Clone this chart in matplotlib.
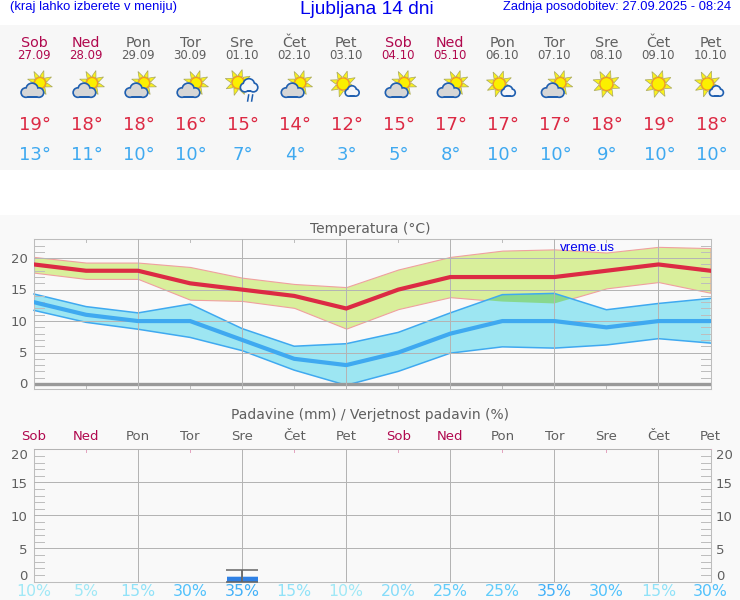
import matplotlib
matplotlib.use("Agg")
import matplotlib.pyplot as plt
import numpy as np
from matplotlib.patches import Circle, Rectangle, Polygon

days = ["Sob", "Ned", "Pon", "Tor", "Sre", "Čet", "Pet", "Sob", "Ned", "Pon", "Tor", "Sre", "Čet", "Pet"]
dates = ["27.09", "28.09", "29.09", "30.09", "01.10", "02.10", "03.10",
         "04.10", "05.10", "06.10", "07.10", "08.10", "09.10", "10.10"]
icons = ["pc", "pc", "pc", "pc", "rain", "pc", "sc", "pc", "pc", "sc", "pc", "sun", "sun", "sc"]
t_max = [19, 18, 18, 16, 15, 14, 12, 15, 17, 17, 17, 18, 19, 18]
t_min = [13, 11, 10, 10, 7, 4, 3, 5, 8, 10, 10, 9, 10, 10]
max_hi = [20.2, 19.3, 19.3, 18.6, 16.9, 15.9, 15.4, 18.2, 20.2, 21.2, 21.4, 20.9, 21.8, 21.6]
max_lo = [17.7, 16.7, 16.7, 13.4, 13.2, 12.1, 8.8, 11.9, 13.8, 13.1, 12.8, 15.2, 16.2, 14.5]
min_hi = [14.3, 12.3, 11.3, 12.7, 8.8, 6.0, 6.4, 8.2, 11.3, 14.2, 14.4, 11.8, 12.8, 13.6]
min_lo = [11.7, 9.8, 8.7, 7.4, 5.3, 2.2, -0.2, 2.0, 4.9, 5.9, 5.7, 6.2, 7.2, 6.5]
rain = [0, 0, 0, 0, 0.7, 0, 0, 0, 0, 0, 0, 0, 0, 0]
rain_max = [0, 0, 0, 0, 1.7, 0, 0, 0, 0, 0, 0, 0, 0, 0]
prob = [10, 5, 15, 30, 35, 15, 10, 20, 25, 25, 35, 30, 15, 30]

W, H = 740, 600
X0, X1 = 34, 711
WEEKEND = "#b0084e"
GREY = "#5f5f5f"
GRID = "#b4b4b4"
RED = "#dc2a44"
BLUE = "#3fa9f0"
SANS = "Liberation Sans"
prob_colors = {5: "#a0e8f6", 10: "#a0e8f6", 15: "#90e2f8", 20: "#85dcfa",
               25: "#62cdfb", 30: "#52c2fc", 35: "#42b0f8"}

fig = plt.figure(figsize=(W / 100, H / 100), dpi=100, facecolor="white")


def px_axes(left, top, right, bottom):
    return fig.add_axes([left / W, 1 - bottom / H, (right - left) / W, (bottom - top) / H])


bg = fig.add_axes([0, 0, 1, 1], zorder=0)
bg.set_xlim(0, W)
bg.set_ylim(H, 0)
bg.axis("off")
bg.add_patch(Rectangle((0, 25), W, 145, fc="#f7f7f7", ec="none"))
bg.add_patch(Rectangle((0, 215), W, 385, fc="#f9f9f9", ec="none"))


def draw_sun(x, y, r=6.0):
    for a in np.arange(8) * np.pi / 4 + 0.3:
        tip = (x + (r + 7.5) * np.cos(a), y + (r + 7.5) * np.sin(a))
        b1 = (x + (r + 1) * np.cos(a - 0.35), y + (r + 1) * np.sin(a - 0.35))
        b2 = (x + (r + 1) * np.cos(a + 0.35), y + (r + 1) * np.sin(a + 0.35))
        bg.add_patch(Polygon([b1, tip, b2], fc="#fbf21a", ec="#a8a860", lw=0.5))
    bg.add_patch(Circle((x, y), r, fc="#fbf000", ec="#f39a1c", lw=0.9))


def draw_cloud(x, y, w, h, fill):
    # x, y = centre of the cloud, dark outline first and the fill on top
    parts = [(-0.29 * w, 0.12 * h, 0.3 * h), (-0.02 * w, -0.14 * h, 0.4 * h), (0.28 * w, 0.12 * h, 0.3 * h)]
    for dx, dy, r in parts:
        bg.add_patch(Circle((x + dx, y + dy), r + 1.7, fc="#1f5fb0", ec="none"))
    bg.add_patch(Rectangle((x - 0.3 * w, y - 0.05 * h), 0.6 * w, 0.42 * h + 1.7, fc="#1f5fb0", ec="none"))
    for dx, dy, r in parts:
        bg.add_patch(Circle((x + dx, y + dy), r, fc=fill, ec="none"))
    bg.add_patch(Rectangle((x - 0.3 * w, y - 0.05 * h), 0.6 * w, 0.42 * h, fc=fill, ec="none"))


def draw_icon(kind, x):
    if kind == "pc":
        draw_sun(x + 6, 83, 5.5)
        draw_cloud(x - 1.5, 91, 23, 13, "#d6d6d6")
    elif kind == "rain":
        draw_sun(x - 4, 82.5, 6)
        draw_cloud(x + 7, 86, 15, 12, "#f4f6fa")
        bg.plot([x + 6.5, x + 5.5], [95, 101], color="#1f5fb0", lw=1.1)
        bg.plot([x + 10.5, x + 9.5], [95, 101], color="#1f5fb0", lw=1.1)
    elif kind == "sc":
        draw_sun(x - 3, 84, 6)
        draw_cloud(x + 6, 91.5, 12, 9, "#f4f6fa")
    else:
        draw_sun(x, 84, 6.5)


xs_px = np.linspace(X0, X1 - 0.5, 14)
for i, x in enumerate(xs_px):
    c = WEEKEND if days[i] in ("Sob", "Ned") else GREY
    bg.text(x, 43, days[i], color=c, fontsize=10.3, ha="center", va="center")
    bg.text(x, 55.5, dates[i], color=c, fontsize=8.5, ha="center", va="center")
    draw_icon(icons[i], x)
    bg.text(x + 1, 124.5, f"{t_max[i]}°", color=RED, fontsize=13, ha="center", va="center")
    bg.text(x + 1, 154.5, f"{t_min[i]}°", color=BLUE, fontsize=13, ha="center", va="center")
    bg.text(x, 591, f"{prob[i]}%", color=prob_colors[prob[i]], fontsize=11.3, ha="center", va="center")
    bg.text(x, 437, days[i], color=c, fontsize=9.5, ha="center", va="center")

bg.text(10, 7, "(kraj lahko izberete v meniju)", color="#0000ee", fontsize=9.35, family=SANS, ha="left", va="center")
bg.text(367, 9, "Ljubljana 14 dni", color="#0000ee", fontsize=13.8, family=SANS, ha="center", va="center")
bg.text(731, 7, "Zadnja posodobitev: 27.09.2025 - 08:24", color="#0000ee", fontsize=9.3, family=SANS, ha="right", va="center")
bg.text(370, 229, "Temperatura (°C)", color=GREY, fontsize=10, ha="center", va="center")
bg.text(370, 415, "Padavine (mm) / Verjetnost padavin (%)", color=GREY, fontsize=10, ha="center", va="center")

x = np.arange(14)


def style_axes(ax, y0, y1, minor_top, label_shift, right_labels=False):
    ax.set_facecolor("none")
    ax.set_xlim(0, 13)
    ax.set_ylim(y0, y1)
    ax.set_xticks([])
    ax.set_yticks([])
    for s in ax.spines.values():
        s.set_color("#bdbdbd")
        s.set_linewidth(0.75)
    for i in range(2, 13, 2):
        ax.axvline(i, color=GRID, lw=0.72, zorder=3)
    for v in range(5, int(y1) + 1, 5):
        ax.axhline(v, color=GRID, lw=0.72, zorder=3)
    # short inner ticks, in pixels so they keep their length on both panels
    tr_l = ax.get_yaxis_transform()
    for v in range(0, minor_top + 1):
        if v % 5:
            ax.plot([0, 10 / (X1 - X0)], [v, v], transform=tr_l, color="#bdbdbd", lw=0.7, zorder=3)
            ax.plot([1 - 10 / (X1 - X0), 1], [v, v], transform=tr_l, color="#bdbdbd", lw=0.7, zorder=3)
    for v in range(0, minor_top + 1, 5):
        off = label_shift.get(v, -1)
        ax.annotate(str(v), (0, v), xycoords=tr_l, xytext=(-4.5, off * 0.72), textcoords="offset points",
                    ha="right", va="center", color=GREY, fontsize=9.5, annotation_clip=False)
        if right_labels:
            ax.annotate(str(v), (1, v), xycoords=tr_l, xytext=(4, off * 0.72), textcoords="offset points",
                        ha="left", va="center", color=GREY, fontsize=9.5, annotation_clip=False)


# temperature panel
ax1 = px_axes(X0, 239.3, X1 - 0.5, 389)
ax1.set_zorder(2)
style_axes(ax1, -0.8, 23, 22, {})
hi, lo = np.array(max_hi), np.array(max_lo)
bhi, blo = np.array(min_hi), np.array(min_lo)
ax1.fill_between(x, lo, hi, fc="#d9ef9b", ec="#f0a0a0", lw=0.8, zorder=1)
ax1.fill_between(x, blo, bhi, fc="#9de6f2", ec="none", zorder=1.2)
ax1.fill_between(x, lo, bhi, where=bhi > lo, interpolate=True, fc="#88d88e", ec="none", zorder=1.4)
ax1.plot(x, bhi, color=BLUE, lw=1.1, zorder=2, clip_on=False)
ax1.plot(x, blo, color=BLUE, lw=1.1, zorder=2, clip_on=False)
ax1.axhline(0, color="#999999", lw=2.4, zorder=2.5)
ax1.plot(x, t_min, color=BLUE, lw=3.0, zorder=4, solid_joinstyle="miter")
ax1.plot(x, t_max, color=RED, lw=3.0, zorder=4, solid_joinstyle="miter")
ax1.text(526 / (X1 - X0 - 0.5), 0.945, "vreme.us", transform=ax1.transAxes, color="#0000ee",
         fontsize=9.6, family=SANS, ha="left", va="center", zorder=5)
for i in range(1, 13, 2):
    ax1.plot([i, i], [1, 1 - 3 / 150], transform=ax1.get_xaxis_transform(), color="#bdbdbd", lw=0.7)
    ax1.plot([i, i], [0, 3 / 150], transform=ax1.get_xaxis_transform(), color="#bdbdbd", lw=0.7)

# precipitation panel
ax2 = px_axes(X0, 449.3, X1 - 0.5, 581.5)
ax2.set_zorder(2)
style_axes(ax2, 0, 20, 19, {0: 4.7, 5: -2, 10: -2, 15: -2}, right_labels=True)
ax2.annotate("20", (0, 20), xycoords=ax2.get_yaxis_transform(), xytext=(-4.5, -4.3), textcoords="offset points",
             ha="right", va="center", color=GREY, fontsize=9.5, annotation_clip=False)
ax2.annotate("20", (1, 20), xycoords=ax2.get_yaxis_transform(), xytext=(4, -4.3), textcoords="offset points",
             ha="left", va="center", color=GREY, fontsize=9.5, annotation_clip=False)
ax2.spines["top"].set_color("#e3a3bf")
ax2.bar(x, rain, width=0.6, color="#2f80e4", edgecolor="none", zorder=2)
for i, (r, m) in enumerate(zip(rain, rain_max)):
    if m > 0:
        ax2.bar(i, 0.2, bottom=r, width=0.6, color="#bcd6f4", edgecolor="none", zorder=2)
        ax2.errorbar(i, 0, yerr=[[0], [m]], color="#666666", capsize=11.2, elinewidth=1.3, capthick=1.1, zorder=4)
for i in range(1, 13, 2):
    ax2.plot([i, i], [1, 1 - 3 / 132], transform=ax2.get_xaxis_transform(), color="#e3a3bf", lw=0.7)

fig.savefig("out.png", dpi=100, facecolor="white")
